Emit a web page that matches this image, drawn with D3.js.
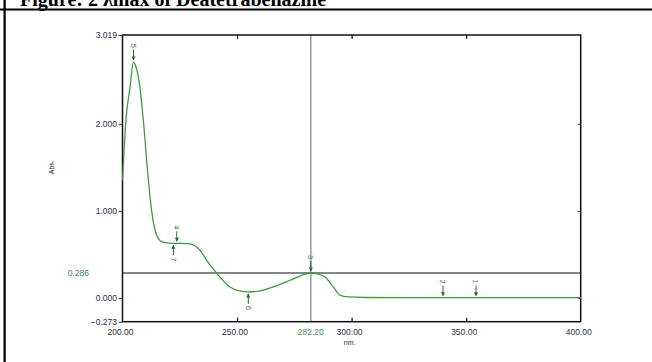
<!DOCTYPE html>
<html>
<head>
<meta charset="utf-8">
<script src="https://cdn.jsdelivr.net/npm/d3@7"></script>
<style>
  body { margin: 0; background: #fff; }
  svg { display: block; }
  .tick-lbl { font-family: "Liberation Sans", Arial, sans-serif; font-size: 8.5px; fill: #2a2f45; }
</style>
</head>
<body>
<figure style="margin:0"></figure>
<script>
// spectrum (nm vs Abs.)
const wavelength = [200, 201.5, 203.3, 204.8, 205.5, 207.6, 209.1, 211.3, 212.7, 214.2, 216.4, 218.6, 222, 226, 229.5, 233.8, 237.3, 241.2, 246.9, 251, 254.9, 260, 265.7, 273.1, 278.2, 282.2, 284.3, 288.4, 292, 295, 298.6, 305.8, 320, 360, 400];
const absorbance = [1.35, 2.04, 2.42, 2.71, 2.68, 2.42, 2.04, 1.35, 1.0, 0.78, 0.66, 0.634, 0.627, 0.627, 0.62, 0.548, 0.41, 0.28, 0.126, 0.08, 0.069, 0.08, 0.126, 0.203, 0.26, 0.286, 0.28, 0.241, 0.126, 0.031, 0.011, 0.005, 0.003, 0.003, 0.003];

// peak / valley picks
const pickNo = ["1", "2", "3", "4", "5", "6", "7"];
const pickNm = [354.3, 339.9, 282.2, 223.7, 204.8, 254.9, 222.2];
const pickAbs = [0.003, 0.003, 0.286, 0.627, 2.71, 0.069, 0.627];
const pickFromBelow = [false, false, false, false, false, true, true];

const yTicks = [3.019, 2.000, 1.000, 0.000, -0.273];
const xTicks = [200, 250, 300, 350, 400];
const cursorNm = 282.20;
const cursorAbs = 0.286;
const title = "Figure: 2 λmax of Deatetrabenazine";

const W = 652, H = 362;
const plot = { left: 122.5, right: 580.7, top: 35, bottom: 321.7 };
const green = "#3f9a3f";
const darkGreen = "#1f6a2a";

const svg = d3.select("figure").append("svg")
  .attr("width", W).attr("height", H);

// table borders + clipped caption
svg.append("text")
  .attr("x", 20).attr("y", 6)
  .attr("font-family", "Liberation Serif, Times New Roman, serif")
  .attr("font-weight", "bold").attr("font-size", 20)
  .text(title);
svg.append("rect").attr("x", 0).attr("y", 8.5).attr("width", W).attr("height", 2).attr("fill", "#000");
svg.append("rect").attr("x", 3.5).attr("y", 0).attr("width", 2.2).attr("height", H).attr("fill", "#000");

const x = d3.scaleLinear().domain([200, 400]).range([plot.left, plot.right]);
const y = d3.scaleLinear().domain([-0.273, 3.019]).range([plot.bottom, plot.top]);

// cursor lines
svg.append("line")
  .attr("x1", x(cursorNm)).attr("x2", x(cursorNm))
  .attr("y1", plot.top).attr("y2", plot.bottom)
  .attr("stroke", "#9a9a9a").attr("stroke-width", 1.5);
svg.append("line")
  .attr("x1", plot.left).attr("x2", plot.right)
  .attr("y1", y(cursorAbs)).attr("y2", y(cursorAbs))
  .attr("stroke", "#111").attr("stroke-width", 1.2);

// frame
svg.append("rect")
  .attr("x", plot.left).attr("y", plot.top)
  .attr("width", plot.right - plot.left).attr("height", plot.bottom - plot.top)
  .attr("fill", "none").attr("stroke", "#111").attr("stroke-width", 1.5);

// left axis: ticks outward
const yAxis = svg.append("g")
  .attr("transform", "translate(" + plot.left + ",0)")
  .call(d3.axisLeft(y).tickValues(yTicks).tickSize(4).tickPadding(1.5).tickFormat(d3.format(".3f")));
yAxis.select(".domain").remove();
yAxis.selectAll("line").attr("stroke", "#333");
yAxis.selectAll("text").attr("class", "tick-lbl").attr("font-family", null).attr("font-size", null);

// right axis: inward ticks, no labels
const yAxisR = svg.append("g")
  .attr("transform", "translate(" + plot.right + ",0)")
  .call(d3.axisLeft(y).tickValues([2, 1, 0]).tickSize(3).tickFormat(""));
yAxisR.select(".domain").remove();
yAxisR.selectAll("line").attr("stroke", "#333");

// bottom + top axis: inward ticks
const xAxis = svg.append("g")
  .attr("transform", "translate(0," + plot.bottom + ")")
  .call(d3.axisTop(x).tickValues(xTicks.slice(1, -1)).tickSize(4).tickFormat(""));
xAxis.select(".domain").remove();
xAxis.selectAll("line").attr("stroke", "#111").attr("stroke-width", 1.2);
const xAxisTop = svg.append("g")
  .attr("transform", "translate(0," + plot.top + ")")
  .call(d3.axisBottom(x).tickValues(xTicks.slice(1, -1)).tickSize(4).tickFormat(""));
xAxisTop.select(".domain").remove();
xAxisTop.selectAll("line").attr("stroke", "#111").attr("stroke-width", 1.2);

svg.append("g").selectAll("text")
  .data(xTicks)
  .join("text")
  .attr("class", "tick-lbl")
  .attr("x", d => x(d) - 2)
  .attr("y", plot.bottom + 13.5)
  .attr("text-anchor", "middle")
  .text(d => d3.format(".2f")(d));

// cursor value labels
svg.append("text")
  .attr("class", "tick-lbl")
  .attr("x", x(cursorNm)).attr("y", plot.bottom + 13.5)
  .attr("text-anchor", "middle").style("fill", "#4f8f5f")
  .text(d3.format(".2f")(cursorNm));
svg.append("text")
  .attr("class", "tick-lbl")
  .attr("x", 89).attr("y", y(cursorAbs) + 3)
  .attr("text-anchor", "end").style("fill", "#3f8a66")
  .text(d3.format(".3f")(cursorAbs));

// axis titles
svg.append("text")
  .attr("class", "tick-lbl").style("font-size", "7px")
  .attr("x", x(300) - 2).attr("y", plot.bottom + 23)
  .attr("text-anchor", "middle")
  .text("nm.");
svg.append("text")
  .attr("class", "tick-lbl").style("font-size", "7px")
  .attr("transform", "translate(54," + y(1.5) + ") rotate(-90)")
  .attr("text-anchor", "middle")
  .text("Abs.");

// spectrum
const line = d3.line()
  .x((d, i) => x(wavelength[i]))
  .y(d => y(d))
  .curve(d3.curveMonotoneX);
svg.append("path")
  .datum(absorbance)
  .attr("d", line)
  .attr("fill", "none")
  .attr("stroke", green)
  .attr("stroke-width", 1.3);

// pick markers
const picks = svg.append("g").selectAll("g")
  .data(pickNo.map((n, i) => ({ n, nm: pickNm[i], a: pickAbs[i], below: pickFromBelow[i] })))
  .join("g")
  .attr("transform", d => "translate(" + x(d.nm) + "," + y(d.a) + ")");

picks.append("line")
  .attr("x1", 0).attr("x2", 0)
  .attr("y1", d => d.below ? 12 : -12)
  .attr("y2", d => d.below ? 2 : -2)
  .attr("stroke", darkGreen).attr("stroke-width", 1);
picks.append("path")
  .attr("d", d => d.below ? "M0,1.5L-2,5.5L2,5.5Z" : "M0,-1.5L-2,-5.5L2,-5.5Z")
  .attr("fill", darkGreen);
picks.append("text")
  .attr("class", "tick-lbl")
  .style("fill", "#3f7a4f").style("font-size", "7.5px")
  .attr("transform", d => "translate(0," + (d.below ? 16 : -16) + ") rotate(90)")
  .attr("text-anchor", "middle")
  .attr("dy", "0.35em")
  .text(d => d.n);
</script>
</body>
</html>
